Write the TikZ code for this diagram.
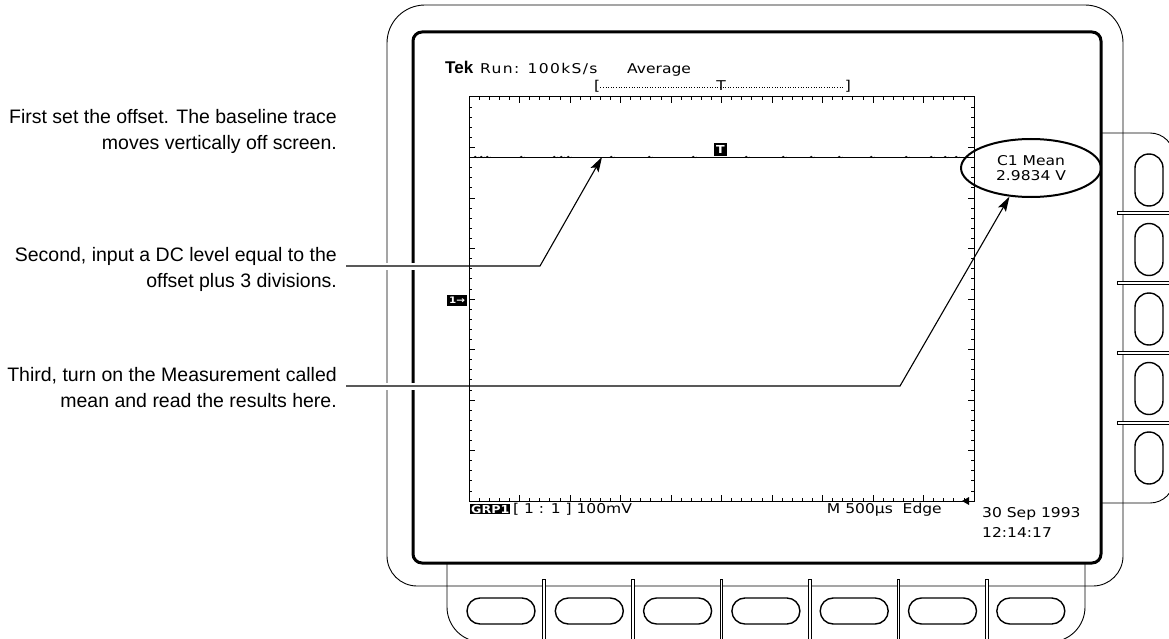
\documentclass[tikz,border=0pt]{standalone}
\usepackage{fontspec}
\setmainfont{Liberation Sans}
\newfontfamily\scr[FakeStretch=1.15]{DejaVu Sans}
\newfontfamily\scrwide[FakeStretch=1.15,LetterSpace=10]{DejaVu Sans}
\usetikzlibrary{arrows.meta,shapes.geometric}
\begin{document}
\begin{tikzpicture}[x=1pt,y=-1pt,
  bezel/.style={line width=0.9pt},
  thickbox/.style={line width=3pt, rounded corners=9pt},
  btn/.style={draw, line width=1.4pt, fill=white, inner sep=0pt},
  sepbar/.style={draw, line width=0.8pt, fill=white},
  tickmark/.style={line width=0.8pt},
  leader/.style={line width=1.1pt},
  tipped/.style={-{Stealth[length=15pt,width=9pt,inset=3pt]}},
  halo/.style={draw=white, line width=7pt},
  caption/.style={font=\fontsize{19.5}{26}\selectfont, anchor=base east, inner sep=0pt},
  scrtext/.style={font=\scr\fontsize{13.5}{15}\selectfont, inner sep=0pt},
  inv/.style={fill=black, text=white},
]
\useasboundingbox (0,0) rectangle (1169,639);
\clip (0,0) rectangle (1169,639);

% outer bezel
\draw[bezel, rounded corners=38pt] (387,300) -- (387,5) -- (1123,5) -- (1123,300)
  [rounded corners=30pt] -- (1123,586) -- (387,586) -- cycle;
% side button bar
\draw[bezel, rounded corners=24pt] (1101,133) -- (1174,133) -- (1174,503) -- (1101,503);
% bottom button bar
\draw[bezel, rounded corners=35pt] (447,564) -- (447,642) -- (1085,642) -- (1085,564);
% separators
\foreach \k in {0,...,5} \draw[sepbar] (542.7+\k*88.6,579) rectangle ++(2.7,70);
\foreach \k in {0,...,3} \draw[sepbar] (1117,211.6+\k*70) rectangle ++(70,2.7);
% buttons
\foreach \k in {0,...,6}
  \node[btn, minimum width=68pt, minimum height=26pt, rounded corners=13pt] (bb\k) at (501+\k*88.3,611) {};
\foreach \k in {0,...,4}
  \node[btn, minimum width=28pt, minimum height=52pt, rounded corners=14pt] (sb\k) at (1149,180+\k*69.5) {};
% screen frame
\draw[thickbox] (413,32) rectangle (1101,563);

% halos where the leaders cross the bezel
\draw[halo] (346,266) -- (432,266);
\draw[halo] (346,386) -- (432,386);

% graticule
\draw[line width=1pt] (469,97) rectangle (974,501);
\foreach \i in {1,...,49}{
  \pgfmathsetmacro\xx{469+\i*10.1}
  \pgfmathsetmacro\len{mod(\i,5)==0 ? 6 : 3}
  \draw[tickmark] (\xx,97) -- (\xx,97+\len);
  \draw[tickmark] (\xx,501) -- (\xx,501-\len);
}
\foreach \j in {1,...,39}{
  \pgfmathsetmacro\yy{97+\j*10.1}
  \pgfmathsetmacro\len{mod(\j,5)==0 ? 6 : 3}
  \draw[tickmark] (469,\yy) -- (469+\len,\yy);
  \draw[tickmark] (974,\yy) -- (974-\len,\yy);
}
% trace
\draw[line width=0.9pt] (469,157) -- (974,157);
\foreach \x in {474,480,486,520,553,560,567,610,648,692,745,782,810,838,870,905,930,944,955}
  \draw[line width=0.6pt] (\x,157) -- (\x+1.5,156.2) -- (\x+3,157.8) -- (\x+4.5,157);
\node[inv, font=\scr\bfseries\fontsize{11}{11}\selectfont, minimum width=13pt, minimum height=13pt, inner sep=0pt] (tmark) at (720.5,149.5) {T};
\node[inv, font=\scr\bfseries\fontsize{9}{9}\selectfont, minimum width=20pt, minimum height=11pt, inner sep=0pt] (gnd) at (457,300.5) {1→};

% header
\node[anchor=base west, inner sep=0pt, font=\bfseries\fontsize{17}{17}\selectfont] (tek) at (445,74) {Tek};
\node[anchor=base west, inner sep=0pt, font=\scrwide\fontsize{13.5}{15}\selectfont] (run) at (480,74) {Run: 100kS/s};
\node[scrtext, anchor=base west] (avg) at (627,74) {Average};
\node[scrtext, anchor=base west] (lb) at (594,91) {[};
\node[scrtext, anchor=base] (trig) at (721,91) {T};
\node[scrtext, anchor=base east] (rb) at (851,91) {]};
\coordinate (dl) at (0,87.5);
\draw[dotted, line width=0.6pt] (lb.east |- dl) -- (rb.west |- dl);

% bottom readouts
\node[inv, anchor=base west, inner sep=1pt, font=\scr\bfseries\fontsize{11}{11}\selectfont] (grp) at (470,513) {GRP1};
\node[scrtext, anchor=base west] (scale) at (513,513) {[ 1 : 1 ] 100mV};
\node[scrtext, anchor=base east] (tbase) at (942,513) {M 500µs\ \ Edge};
\fill (962,501) -- (969,497) -- (969,505) -- cycle;
\node[scrtext, anchor=base west] (date) at (982,517) {30 Sep 1993};
\node[scrtext, anchor=base west] (time) at (982,537) {12:14:17};

% measurement readout
\node[draw, ellipse, line width=2pt, minimum width=140pt, minimum height=58pt, inner sep=0pt,
  align=center, font=\scr\fontsize{13.5}{15}\selectfont] (meas) at (1031,168) {C1 Mean\\2.9834 V};

% captions
\node[caption] (c1a) at (337,123.5) {First set the offset. The baseline trace};
\node[caption] (c1b) at (337,149.5) {moves vertically off screen.};
\node[caption] (c2a) at (337,261) {Second, input a DC level equal to the};
\node[caption] (c2b) at (337,287) {offset plus 3 divisions.};
\node[caption] (c3a) at (337,381.5) {Third, turn on the Measurement called};
\node[caption] (c3b) at (337,407.5) {mean and read the results here.};

% leaders
\coordinate (l1s) at (346,266);
\coordinate (l1k) at (540,266);
\coordinate (l1t) at (602,157);
\draw[leader, tipped] (l1s) -- (l1k) -- (l1t);
\coordinate (l2s) at (346,386);
\coordinate (l2k) at (900,386);
\draw[leader, tipped] (l2s) -- (l2k) -- (meas.233);
\end{tikzpicture}
\end{document}
